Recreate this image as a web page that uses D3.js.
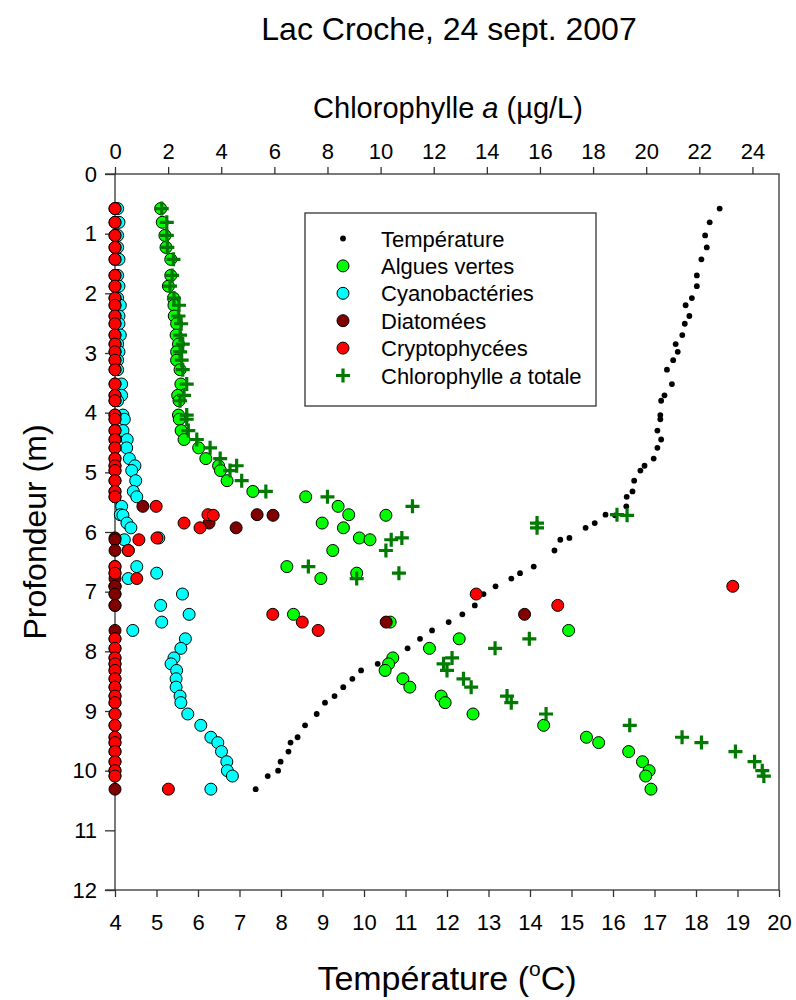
<!DOCTYPE html>
<html><head><meta charset="utf-8">
<script src="https://cdn.jsdelivr.net/npm/d3@7"></script>
<style>body{margin:0;background:#fff}svg{display:block}text{font-family:"Liberation Sans",Arial,sans-serif}</style>
</head><body><svg id="c" width="796" height="1000"></svg>
<script>
const depths=[0.58,0.81,1.03,1.23,1.43,1.70,1.88,2.08,2.20,2.38,2.51,2.70,2.85,2.98,3.12,3.28,3.52,3.71,3.80,4.04,4.11,4.30,4.45,4.59,4.77,4.89,4.97,5.14,5.32,5.41,5.57,5.71,5.72,5.85,5.93,6.10,6.13,6.31,6.58,6.69,6.78,6.91,7.04,7.23,7.38,7.51,7.65,7.79,7.95,8.11,8.21,8.32,8.46,8.60,8.75,8.86,9.05,9.24,9.44,9.53,9.68,9.85,10.00,10.09,10.31];
const temperature=[18.57,18.33,18.22,18.26,18.13,18.02,18.02,17.90,17.75,17.84,17.73,17.67,17.51,17.56,17.45,17.30,17.42,17.24,17.16,17.14,17.14,17.07,17.16,17.07,16.98,16.76,16.66,16.51,16.47,16.33,16.32,15.82,16.05,15.56,15.34,14.95,14.73,14.59,14.09,13.76,13.55,13.17,12.88,12.67,12.37,12.04,11.64,11.35,11.05,10.65,10.33,9.93,9.72,9.50,9.29,9.06,8.86,8.58,8.40,8.23,8.18,7.99,7.93,7.68,7.39];
const alguesVertes=[1.72,1.78,1.88,1.92,2.10,2.10,2.01,2.20,2.22,2.23,2.32,2.30,2.39,2.32,2.32,2.45,2.48,2.36,2.41,2.39,2.42,2.49,2.60,3.15,3.42,3.90,3.97,4.22,5.19,7.18,8.40,8.80,10.20,7.80,8.60,9.20,9.60,8.20,6.47,9.10,7.75,0,0,0,6.72,10.36,17.08,12.96,11.84,10.46,10.30,10.17,10.84,11.10,12.28,12.43,13.48,16.14,17.75,18.21,19.34,19.86,20.11,19.98,20.18];
const cyanobacteries=[0.10,0.15,0.10,0.10,0.15,0.10,0.15,0.10,0.20,0.15,0.15,0.20,0.10,0.15,0.10,0.10,0.25,0.25,0.10,0.30,0.35,0.30,0.46,0.44,0.54,0.75,0.63,0.78,0.69,0.82,0.25,0.20,0.30,0.45,0.60,1.65,0.35,0.50,0.82,1.57,0.50,0,2.54,1.72,2.79,1.76,0.67,2.65,2.48,2.22,2.11,2.32,2.30,2.30,2.45,2.48,2.74,3.23,3.61,3.87,4.01,4.21,4.23,4.42,3.61];
const diatomees=[0,0,0,0,0,0,0,0,0,0,0,0,0,0,0,0,0,0,0,0,0,0,0,0,0,0,0,0,0,0,1.05,5.35,5.95,3.54,4.56,0,0,0,0,0,0,0,0,0,15.42,10.21,0,0,0,0,0,0,0,0,0,0,0,0,0,0,0,0,0,0,0];
const cryptophycees=[0,0,0,0,0,0,0,0,0,0,0,0,0,0,0,0,0,0,0,0,0,0,0,0,0,0,0,0,0,0,1.55,3.50,3.70,2.60,3.20,1.58,0.90,0.50,0,0,0.82,23.26,13.60,16.67,5.94,7.05,7.65,0,0,0,0,0,0,0,0,0,0,0,0,0,0,0,0,0,2.01];
const chloroTotale=[1.76,1.95,1.95,1.97,2.20,2.15,2.07,2.22,2.41,2.39,2.49,2.45,2.55,2.45,2.51,2.55,2.70,2.60,2.45,2.70,2.70,2.76,3.08,3.58,3.96,4.58,4.33,4.77,5.68,8.00,11.20,18.90,19.28,15.89,15.89,10.80,10.40,10.20,7.28,10.69,9.10,null,null,null,null,null,null,15.60,14.31,12.69,12.37,12.50,13.12,13.41,14.76,14.92,16.23,19.38,21.35,22.08,23.36,24.08,24.37,24.43,null];
const tempTicks=d3.range(4,21,1);
const chlTicks=d3.range(0,25,2);
const depthTicks=d3.range(0,13,1);
const legendLabels=["Température","Algues vertes","Cyanobactéries","Diatomées","Cryptophycées","Chlorophylle a totale"];

const svg=d3.select("#c");
const L=115,R=779,T=174,B=890;
const xT=d3.scaleLinear().domain([4,20]).range([L,R]);
const xC=d3.scaleLinear().domain([0,25]).range([L,R]);
const y=d3.scaleLinear().domain([0,12]).range([T,B]);
const axCol="#333";
const FF="Liberation Sans, Arial, sans-serif";

// title
svg.append("text").attr("x",449).attr("y",40).attr("text-anchor","middle").attr("font-size",32).text("Lac Croche, 24 sept. 2007");

// axes
const gB=svg.append("g").attr("transform",`translate(0,${B})`).call(d3.axisBottom(xT).tickValues(tempTicks).tickSize(7).tickSizeOuter(0).tickPadding(17));
const gTop=svg.append("g").attr("transform",`translate(0,${T})`).call(d3.axisTop(xC).tickValues(chlTicks).tickSize(7).tickSizeOuter(0).tickPadding(8));
const gL=svg.append("g").attr("transform",`translate(${L},0)`).call(d3.axisLeft(y).tickValues(depthTicks).tickSize(10).tickSizeOuter(0).tickPadding(8));
[gB,gTop,gL].forEach(g=>{g.selectAll("text").attr("font-size",22).attr("fill","#000").attr("font-family",FF);g.selectAll("line,path").attr("stroke",axCol).attr("stroke-width",1.3);});
gB.selectAll("path").remove();gTop.selectAll("path").remove();gL.selectAll("path").remove();
// frame
svg.append("rect").attr("x",L).attr("y",T).attr("width",R-L).attr("height",B-T).attr("fill","none").attr("stroke",axCol).attr("stroke-width",1.3);
svg.append("line").attr("x1",L-10).attr("x2",L).attr("y1",T).attr("y2",T).attr("stroke",axCol).attr("stroke-width",1.3);
svg.append("line").attr("x1",L-10).attr("x2",L).attr("y1",B).attr("y2",B).attr("stroke",axCol).attr("stroke-width",1.3);

// axis titles
const tt=svg.append("text").attr("x",448).attr("y",118).attr("text-anchor","middle").attr("font-size",29);
tt.append("tspan").text("Chlorophylle ");tt.append("tspan").attr("font-style","italic").text("a");tt.append("tspan").text(" (µg/L)");
const bt=svg.append("text").attr("x",447).attr("y",990).attr("text-anchor","middle").attr("font-size",34);
bt.append("tspan").text("Température (");bt.append("tspan").attr("font-size",21).attr("dy",-14).text("o");bt.append("tspan").attr("dy",14).text("C)");
svg.append("text").attr("transform","translate(46,532) rotate(-90)").attr("text-anchor","middle").attr("font-size",32).text("Profondeur (m)");

// data
const plot=svg.append("g");
const idx=d3.range(depths.length);
plot.selectAll(".t").data(idx).join("circle").attr("cx",i=>xT(temperature[i])).attr("cy",i=>y(depths[i])).attr("r",2.9).attr("fill","#000");
function circles(arr,fill){
  plot.append("g").selectAll("circle").data(idx.filter(i=>arr[i]!=null)).join("circle")
   .attr("cx",i=>xC(arr[i])).attr("cy",i=>y(depths[i])).attr("r",6).attr("fill",fill).attr("stroke","#000").attr("stroke-width",1);
}
circles(alguesVertes,"#00ff00");
circles(cyanobacteries,"#00ffff");
circles(diatomees,"#800000");
circles(cryptophycees,"#ff0000");
const plusPath="M-7,0H7M0,-7V7";
plot.append("g").selectAll("path").data(idx.filter(i=>chloroTotale[i]!=null)).join("path")
  .attr("transform",i=>`translate(${xC(chloroTotale[i])},${y(depths[i])})`).attr("d",plusPath).attr("stroke","#007a00").attr("stroke-width",3.2).attr("fill","none");

// legend
const lg=svg.append("g");
lg.append("rect").attr("x",305).attr("y",213).attr("width",291).attr("height",193).attr("fill","#fff").attr("stroke",axCol).attr("stroke-width",1.3);
const rowY=i=>238.5+i*27.4;
legendLabels.forEach((lab,i)=>{
  const yy=rowY(i);
  if(i===0) lg.append("circle").attr("cx",343).attr("cy",yy).attr("r",2.9).attr("fill","#000");
  else if(i===5) lg.append("path").attr("transform",`translate(343,${yy})`).attr("d",plusPath).attr("stroke","#007a00").attr("stroke-width",3.2);
  else lg.append("circle").attr("cx",343).attr("cy",yy).attr("r",6).attr("fill",["","#00ff00","#00ffff","#800000","#ff0000"][i]).attr("stroke","#000");
  const t=lg.append("text").attr("x",381).attr("y",yy+8).attr("font-size",22);
  if(i===5){t.append("tspan").text("Chlorophylle ");t.append("tspan").attr("font-style","italic").text("a");t.append("tspan").text(" totale");}
  else t.text(lab);
});
</script></body></html>
